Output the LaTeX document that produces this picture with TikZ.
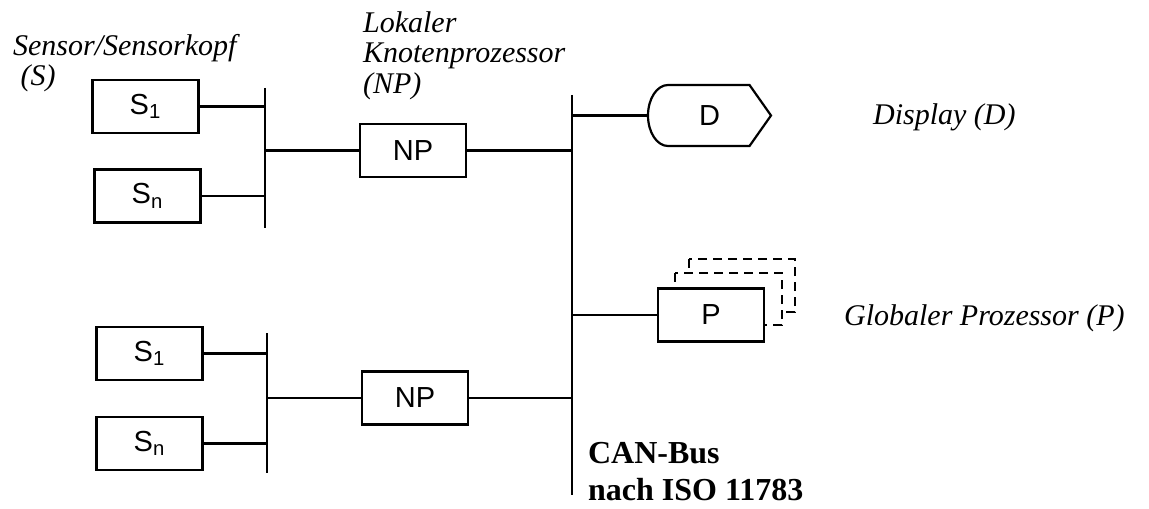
\documentclass[tikz,border=0pt]{standalone}
\usepackage{fontspec}
\setmainfont{Liberation Serif}
\setsansfont{Liberation Sans}
\usetikzlibrary{positioning, calc}

\begin{document}
\begin{tikzpicture}[x=0.5pt, y=-0.5pt, line width=1.1pt,
    box/.style={draw, fill=white, minimum width=53pt, minimum height=26.5pt, inner sep=0pt,
        font=\sffamily\fontsize{14.5}{16}\selectfont},
    lbl/.style={inner sep=0pt, align=left, font=\itshape\fontsize{15}{15}\selectfont},
    ghost/.style={draw, fill=white, dash pattern=on 4.5pt off 3pt}]
    \useasboundingbox (0,0) rectangle (1149,508);

    % obere Sensorgruppe
    \node[box] (sa1) at (145.5,106.5) {S\textsubscript{1}};
    \node[box] (san) at (147.5,196) {S\textsubscript{n}};
    \coordinate (busa) at (265,88);
    \draw (busa) -- (265,228);
    \node[box] (npa) at (413,150.5) {NP};

    % untere Sensorgruppe
    \node[box] (sb1) at (149.5,353.5) {S\textsubscript{1}};
    \node[box] (sbn) at (149.5,443.5) {S\textsubscript{n}};
    \coordinate (busb) at (267,333);
    \draw (busb) -- (267,473);
    \node[box] (npb) at (415,398) {NP};

    % CAN-Bus
    \coordinate (can) at (572,95);
    \draw (can) -- (572,495);

    % Display
    \node[minimum width=61.5pt, minimum height=30.5pt, inner sep=0pt,
        font=\sffamily\fontsize{14.5}{16}\selectfont] (disp) at (709.5,115.5) {D};
    \draw[shift={(disp.center)}] (-41.5,-30.5) -- (40,-30.5) -- (61.5,0) -- (40,30.5) -- (-41.5,30.5)
        arc[start angle=90, end angle=270, x radius=20, y radius=30.5] -- cycle;

    % globaler Prozessor
    \coordinate (pc) at (711,315);
    \draw[ghost, shift={(pc)}] (-22,-56) rectangle (84,-3);
    \draw[ghost, shift={(pc)}] (-36,-42) rectangle (71,10);
    \node[box] (proc) at (pc) {P};

    % Verbindungen
    \draw (sa1.east) -- (sa1.east -| busa);
    \draw (san.east) -- (san.east -| busa);
    \draw (npa.west -| busa) -- (npa.west);
    \draw (npa.east) -- (npa.east -| can);
    \draw (sb1.east) -- (sb1.east -| busb);
    \draw (sbn.east) -- (sbn.east -| busb);
    \draw (npb.west -| busb) -- (npb.west);
    \draw (npb.east) -- (npb.east -| can);
    \draw (can |- disp.west) -- (disp.west);
    \draw (can |- proc.west) -- (proc.west);

    % Beschriftungen
    \node[lbl, anchor=base west, font=\itshape\fontsize{15}{13.5}\selectfont] (lsens) at (12,85) {Sensor/Sensorkopf\\\ (S)};
    \node[lbl, anchor=base west] (lnp) at (362,93) {Lokaler\\Knotenprozessor\\(NP)};
    \node[lbl, anchor=base west] (ldisp) at (872,125) {Display (D)};
    \node[lbl, anchor=base west] (lproc) at (843,325) {Globaler Prozessor (P)};
    \node[inner sep=0pt, align=left, anchor=base west, font=\bfseries\fontsize{16}{18.5}\selectfont] (lcan) at (587,500) {CAN-Bus\\nach ISO 11783};
\end{tikzpicture}
\end{document}
